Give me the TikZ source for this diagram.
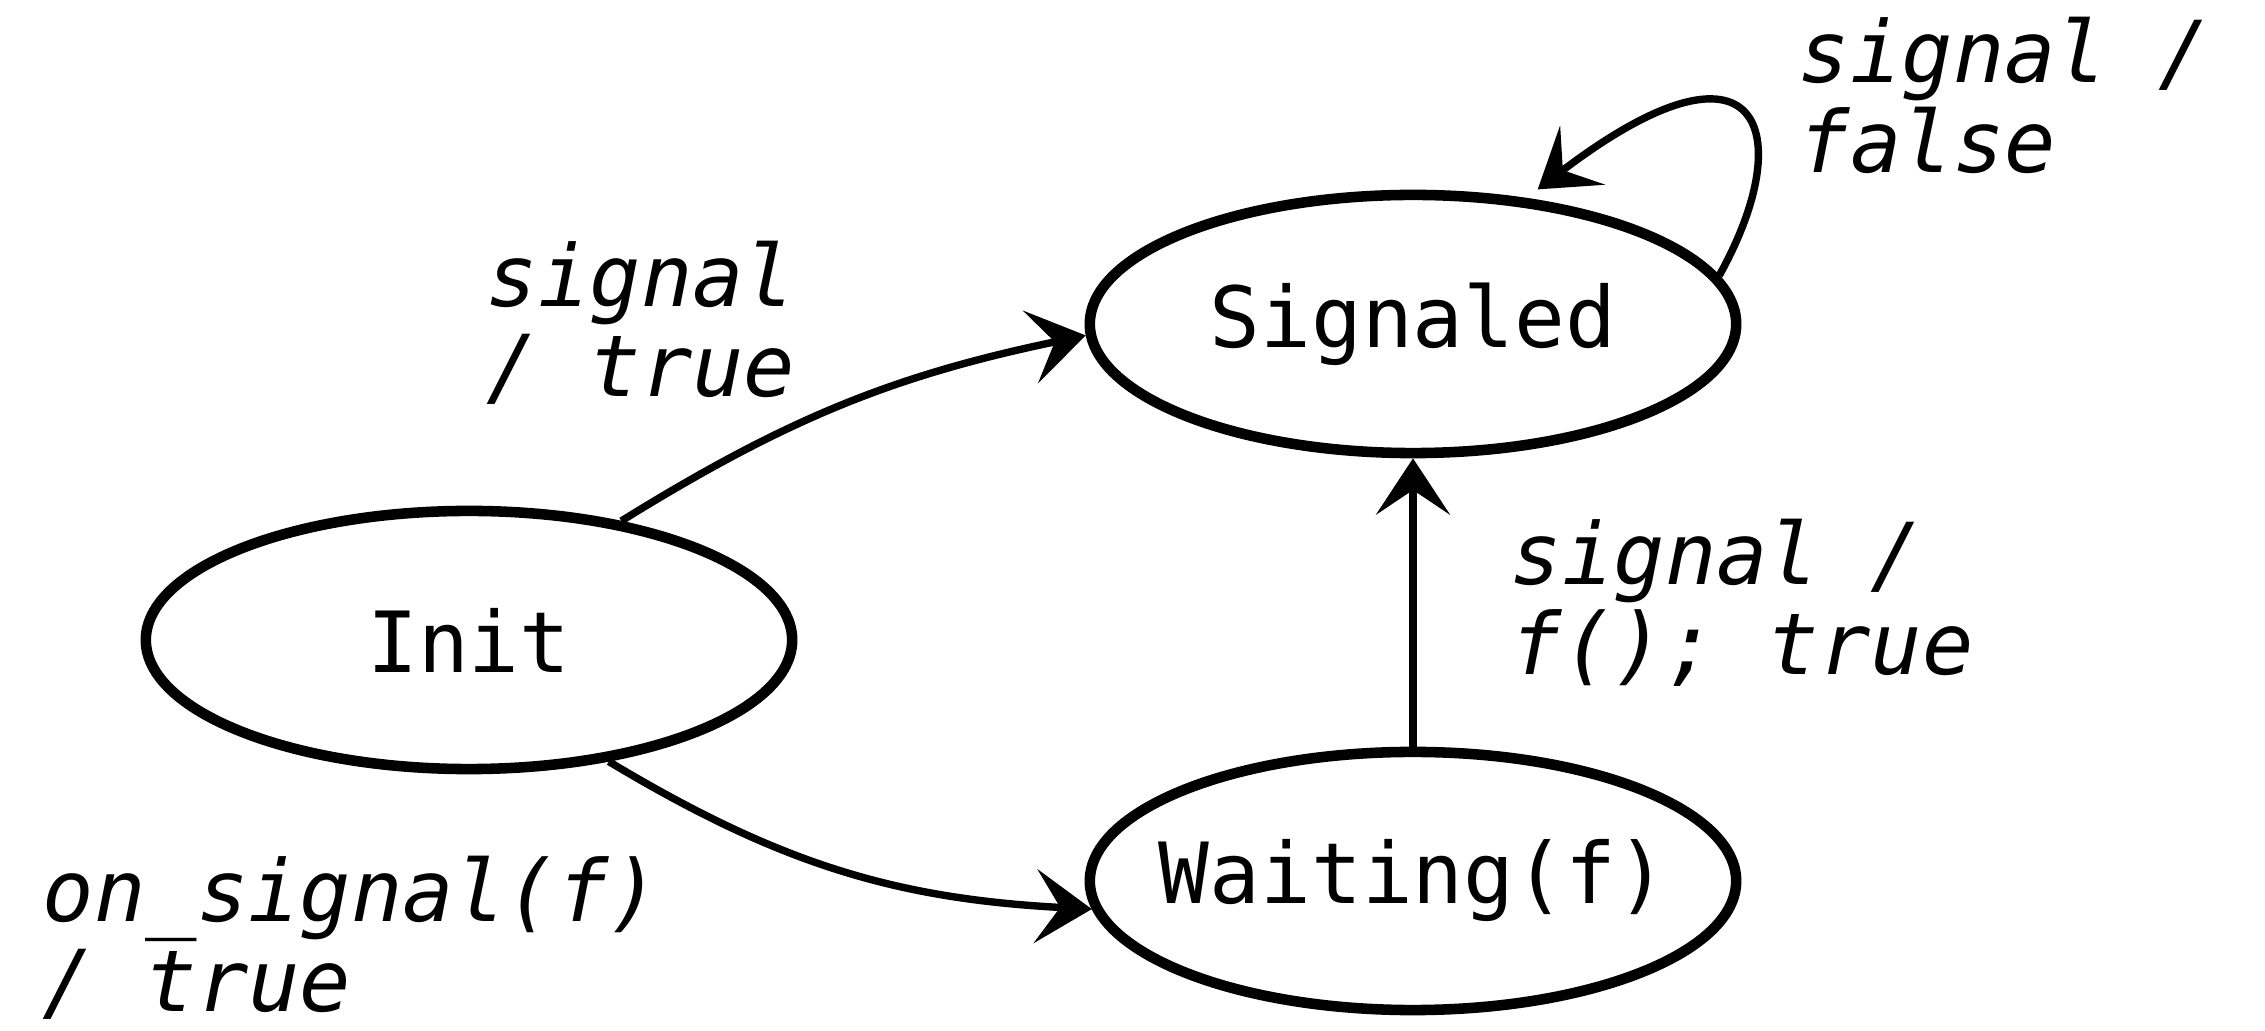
\documentclass[tikz,border=0pt]{standalone}
\usepackage{fontspec}
\setmonofont{DejaVu Sans Mono}
\usetikzlibrary{arrows.meta,shapes.geometric}
\tikzset{
  state/.style={ellipse, draw=black, line width=3pt, minimum width=6.46cm, minimum height=2.58cm, inner sep=0pt,
    font=\fontsize{24pt}{26pt}\selectfont\ttfamily},
  lbl/.style={align=left, inner sep=0pt, anchor=base west,
    font=\fontsize{24.3pt}{25.8pt}\selectfont\ttfamily\itshape},
  trans/.style={line width=2.1pt, -{Stealth[length=16pt,width=21pt,inset=7pt]}}
}
\begin{document}
\begin{tikzpicture}[x=0.01cm,y=-0.01cm]
\useasboundingbox (0,0) rectangle (2265,1031);
\node[state] (I) at (469,640) {\makebox[0pt]{Init}};
\node[state] (S) at (1413,324) {\makebox[0pt]{Signaled}};
\node[state] (W) at (1413,881) {\makebox[0pt]{Waiting(f)}};

\draw[trans] (I.38) to[bend left=10] (S.182);
\draw[trans] (I.-41) to[bend right=14] (W.185);
\draw[trans] (W.north) -- (S.south);
\draw[trans, shorten >=4pt] (S.9) .. controls (1800,130) and (1760,20) .. (S.48);

\node[lbl] (l1) at (486,397) {signal\\/ true};
\node[lbl] (l2) at (1798,173) {signal /\\false};
\node[lbl] (l3) at (1510,675) {signal /\\f(); true};
\node[lbl] (l4) at (42,1012) {on\_signal(f)\\/ true};
\end{tikzpicture}
\end{document}
